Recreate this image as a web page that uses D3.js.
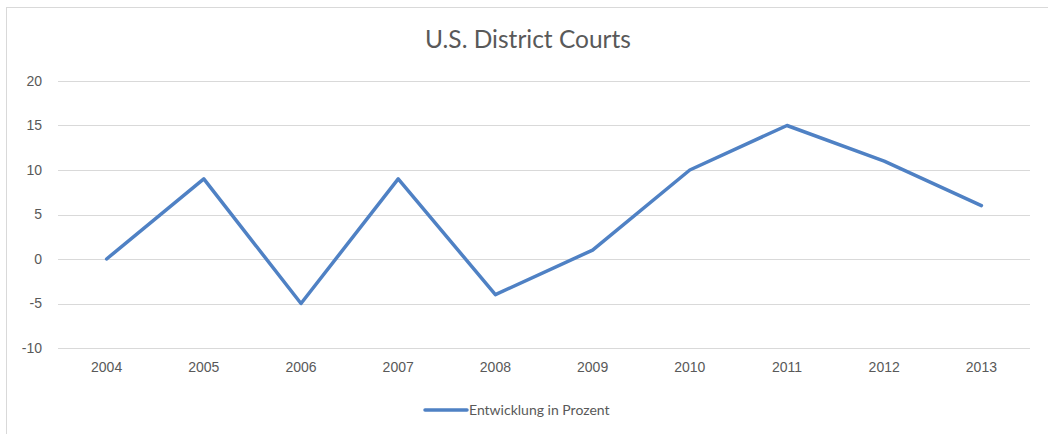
<!DOCTYPE html>
<html>
<head>
<meta charset="utf-8">
<script src="https://cdn.jsdelivr.net/npm/d3@7"></script>
<style>
  body { margin: 0; background: #fff; }
  svg { display: block; font-family: Lato, "Open Sans", sans-serif; }
</style>
</head>
<body>
<svg id="chart" width="1048" height="434"></svg>
<script>
const years = ["2004", "2005", "2006", "2007", "2008", "2009", "2010", "2011", "2012", "2013"];
const values = [0, 9, -5, 9, -4, 1, 10, 15, 11, 6];
const yTicks = [-10, -5, 0, 5, 10, 15, 20];
const title = "U.S. District Courts";
const seriesName = "Entwicklung in Prozent";

const svg = d3.select("#chart");
const W = 1048, H = 434;
const m = { left: 58, right: 18, top: 81, bottom: 86 };
const textColor = "#595959";
const lineColor = "#4f81c4";

// outer chart border
svg.append("rect")
  .attr("x", 6.5).attr("y", 7.5)
  .attr("width", W).attr("height", H)
  .attr("fill", "none").attr("stroke", "#d9d9d9");

const x = d3.scaleBand().domain(years).range([m.left, W - m.right]);
const y = d3.scaleLinear().domain([-10, 20]).range([H - m.bottom, m.top]);

// gridlines
svg.append("g")
  .selectAll("line")
  .data(yTicks)
  .join("line")
  .attr("x1", m.left).attr("x2", W - m.right)
  .attr("y1", (d) => Math.round(y(d)) + 0.5)
  .attr("y2", (d) => Math.round(y(d)) + 0.5)
  .attr("stroke", "#d9d9d9");

// y axis labels (plain hyphen for negatives, like the original)
const yAxis = svg.append("g")
  .attr("transform", `translate(${m.left - 16},0)`)
  .call(d3.axisLeft(y).tickValues(yTicks).tickSize(0).tickPadding(0).tickFormat((d) => String(d)));
yAxis.select(".domain").remove();
yAxis.selectAll("text").attr("fill", textColor).style("font-size", "14px");

// x axis labels
const xAxis = svg.append("g")
  .attr("transform", `translate(0,${H - m.bottom + 14})`)
  .call(d3.axisBottom(x).tickSize(0).tickPadding(0));
xAxis.select(".domain").remove();
xAxis.selectAll("text").attr("fill", textColor).style("font-size", "14px");

// series line
const line = d3.line()
  .x((d, i) => x(years[i]) + x.bandwidth() / 2)
  .y((d) => y(d));

svg.append("path")
  .datum(values)
  .attr("d", line)
  .attr("fill", "none")
  .attr("stroke", lineColor)
  .attr("stroke-width", 3.5)
  .attr("stroke-linejoin", "round")
  .attr("stroke-linecap", "round");

// title
svg.append("text")
  .attr("x", 528).attr("y", 48)
  .attr("text-anchor", "middle")
  .attr("fill", textColor)
  .style("font-size", "24.5px")
  .text(title);

// legend
const lg = svg.append("g").attr("transform", "translate(425,410)");
lg.append("line")
  .attr("x1", 0).attr("x2", 42)
  .attr("stroke", lineColor).attr("stroke-width", 3.5)
  .attr("stroke-linecap", "round");
lg.append("text")
  .attr("x", 44).attr("y", 5)
  .attr("fill", textColor)
  .style("font-size", "14px")
  .text(seriesName);
</script>
</body>
</html>
